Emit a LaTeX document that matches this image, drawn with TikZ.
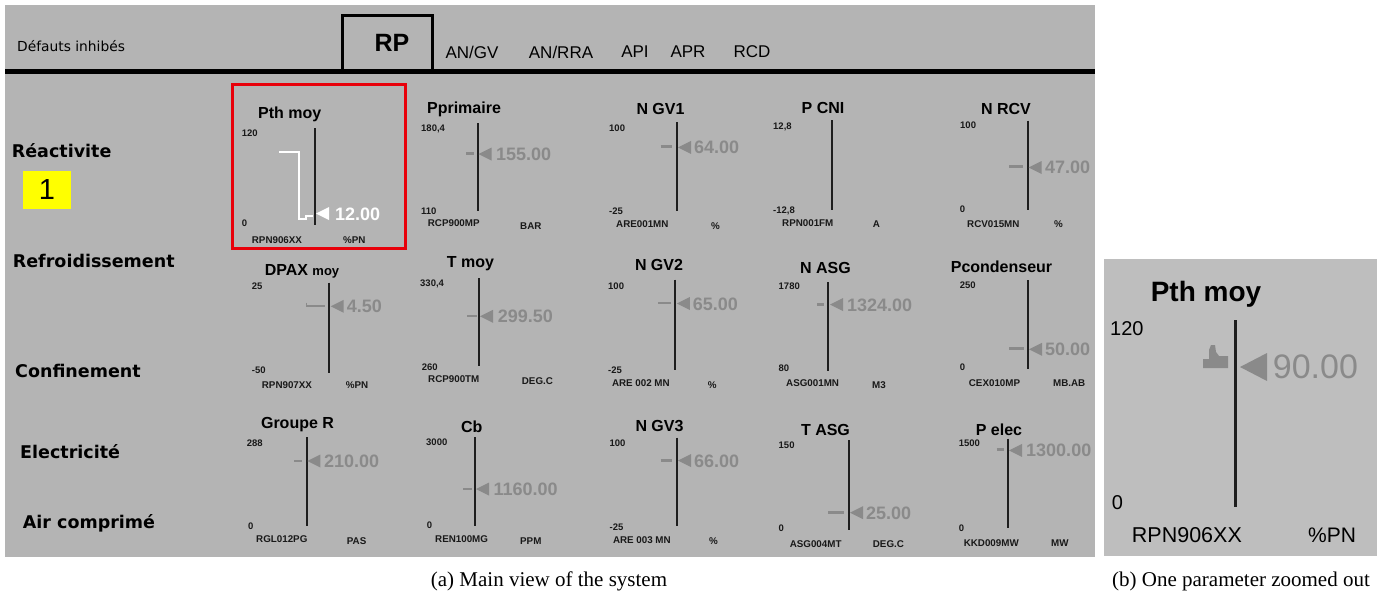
\documentclass[tikz,border=0pt]{standalone}
\usepackage{fontspec}
\setmainfont{Liberation Sans}
\newfontfamily\dejavu{DejaVu Sans}
\newfontfamily\capserif{Liberation Serif}
\definecolor{hmigray}{RGB}{180,180,180}
\definecolor{hmigrayb}{RGB}{190,190,190}
\definecolor{valgray}{RGB}{138,138,138}
\definecolor{barblack}{RGB}{30,30,30}
\definecolor{alarmred}{RGB}{232,0,10}
\definecolor{hmiyellow}{RGB}{255,255,0}
\definecolor{smalltxt}{RGB}{25,25,25}
\newcommand\gtri[3][valgray]{\fill[#1] (#2,#3) -- ++(13,-6.5) -- ++(0,13) -- cycle;}
\tikzset{
 gtitle/.style={font=\bfseries\fontsize{16}{16}\selectfont, inner sep=0, anchor=center},
 gsmall/.style={font=\bfseries\fontsize{9.5}{10}\selectfont, text=smalltxt, inner sep=0, anchor=west},
 gtag/.style={font=\bfseries\fontsize{9.8}{10}\selectfont, text=smalltxt, inner sep=0, anchor=west},
 gval/.style={font=\bfseries\fontsize{18}{18}\selectfont, text=valgray, inner sep=0, anchor=west},
 gbar/.style={line width=2pt, draw=barblack},
 gmark/.style={line width=2.5pt, draw=valgray},
 lefttxt/.style={font=\dejavu\bfseries\fontsize{17.5}{18}\selectfont, inner sep=0, anchor=west},
 tabtxt/.style={font=\fontsize{17}{17}\selectfont, inner sep=0, anchor=center},
 captxt/.style={font=\capserif\fontsize{21}{21}\selectfont, inner sep=0, anchor=center},
}
\begin{document}
\begin{tikzpicture}[x=1pt,y=-1pt]
\useasboundingbox (0,0) rectangle (1383,595);
\fill[white] (0,0) rectangle (1383,595);
% main panel
\fill[hmigray] (5,5) rectangle (1095,557);
\fill[black] (5,69) rectangle (1095,74);
\draw[line width=3pt] (342,72) -- (342,15) -- (432,15) -- (432,72);
\node[font=\dejavu\fontsize{13.8}{14}\selectfont, inner sep=0, anchor=west] (defauts) at (17,46) {Défauts inhibés};
\node[font=\bfseries\fontsize{25}{25}\selectfont, inner sep=0] (tabrp) at (392,43) {RP};
\node[tabtxt] (tabangv) at (472,52) {AN/GV};
\node[tabtxt] (tabanrra) at (561,52) {AN/RRA};
\node[tabtxt] (tabapi) at (635,52) {API};
\node[tabtxt] (tabapr) at (688,52) {APR};
\node[tabtxt] (tabrcd) at (752,52) {RCD};
% left labels
\node[lefttxt] (lreact) at (11.7,151) {Réactivite};
\fill[hmiyellow] (23,171) rectangle (70.5,209);
\node[font=\fontsize{29}{29}\selectfont, inner sep=0] (one) at (47,190) {1};
\node[lefttxt] (lrefr) at (12.7,261) {Refroidissement};
\node[lefttxt] (lconf) at (15,371) {Confinement};
\node[lefttxt] (lelec) at (20,451.5) {Electricité};
\node[lefttxt] (lair) at (22.7,523) {Air comprimé};
% ---------- row 1
% Pth moy
\draw[alarmred, line width=3pt] (232,84) rectangle (405,248);
\node[gtitle] (t11) at (289.7,114) {Pth moy};
\node[gsmall] (mx11) at (241.7,133) {120};
\node[gsmall] (mn11) at (241.7,223.5) {0};
\node[gtag] (tg11) at (251.7,240) {RPN906XX};
\node[gtag] (u11) at (343,240) {\%PN};
\draw[gbar] (315,128) -- (315,225);
\draw[white, line width=2pt] (279,152) -- (299,152) -- (299,219) -- (306,219) -- (306,216) -- (313,216);
\gtri[white]{316}{213.5}
\node[gval, text=white] (v11) at (335,214) {12.00};
% Pprimaire
\node[gtitle] (t12) at (464,109) {Pprimaire};
\node[gsmall] (mx12) at (421,129) {180,4};
\node[gsmall] (mn12) at (421,211.5) {110};
\node[gtag] (tg12) at (427.7,223) {RCP900MP};
\node[gtag] (u12) at (520,226) {BAR};
\draw[gbar] (477.7,123) -- (477.7,211);
\draw[gmark] (466,153.3) -- (474,153.3);
\gtri{478.5}{154}
\node[gval] (v12) at (496,154) {155.00};
% N GV1
\node[gtitle] (t13) at (660.5,108.5) {N GV1};
\node[gsmall] (mx13) at (609,128.5) {100};
\node[gsmall] (mn13) at (609,211) {-25};
\node[gtag] (tg13) at (616,224) {ARE001MN};
\node[gtag] (u13) at (711,226.5) {\%};
\draw[gbar] (676.8,122) -- (676.8,211);
\draw[gmark] (660.6,146.4) -- (672.4,146.4);
\gtri{678}{147.4}
\node[gval] (v13) at (694,147.4) {64.00};
% P CNI
\node[gtitle] (t14) at (823,108) {P CNI};
\node[gsmall] (mx14) at (773,127) {12,8};
\node[gsmall] (mn14) at (773,211) {-12,8};
\node[gtag] (tg14) at (782,223) {RPN001FM};
\node[gtag] (u14) at (872.7,224) {A};
\draw[gbar] (832,120) -- (832,209.7);
% N RCV
\node[gtitle] (t15) at (1006,109) {N RCV};
\node[gsmall] (mx15) at (960,125.5) {100};
\node[gsmall] (mn15) at (959.6,209) {0};
\node[gtag] (tg15) at (967,224) {RCV015MN};
\node[gtag] (u15) at (1054,224.5) {\%};
\draw[gbar] (1027.6,120.5) -- (1027.6,210);
\draw[gmark] (1009,166.6) -- (1022.6,166.6);
\gtri{1028.6}{167.5}
\node[gval] (v15) at (1045,167) {47.00};
% ---------- row 2
% DPAX moy
\node[gtitle] (t21) at (302,271) {DPAX {\fontsize{13}{13}\selectfont moy}};
\node[gsmall] (mx21) at (251.7,286.5) {25};
\node[gsmall] (mn21) at (251.7,370.5) {-50};
\node[gtag] (tg21) at (261.7,385.5) {RPN907XX};
\node[gtag] (u21) at (345.7,385) {\%PN};
\draw[gbar] (329.3,282.7) -- (329.3,372.7);
\draw[gmark] (306,306) -- (325,306);
\draw[valgray, line width=1.5pt] (306.7,302.5) -- (306.7,306);
\gtri{330.7}{306.3}
\node[gval] (v21) at (346.7,306) {4.50};
% T moy
\node[gtitle] (t22) at (470.5,263.5) {T moy};
\node[gsmall] (mx22) at (420,283.7) {330,4};
\node[gsmall] (mn22) at (421.7,367) {260};
\node[gtag] (tg22) at (428,379) {RCP900TM};
\node[gtag] (u22) at (521.7,381) {DEG.C};
\draw[gbar] (479.3,278) -- (479.3,366);
\draw[gmark] (467,316) -- (476.7,316);
\gtri{480}{316.3}
\node[gval] (v22) at (497.7,316.7) {299.50};
% N GV2
\node[gtitle] (t23) at (659,265) {N GV2};
\node[gsmall] (mx23) at (608,286) {100};
\node[gsmall] (mn23) at (608,370) {-25};
\node[gtag] (tg23) at (611.8,383) {ARE 002 MN};
\node[gtag] (u23) at (707.7,385) {\%};
\draw[gbar] (675,279.6) -- (675,369.5);
\draw[gmark] (658,303) -- (670.7,303);
\gtri{676.8}{303.5}
\node[gval] (v23) at (692.6,303.9) {65.00};
% N ASG
\node[gtitle] (t24) at (825.5,268) {N ASG};
\node[gsmall] (mx24) at (778.5,286) {1780};
\node[gsmall] (mn24) at (778.5,368) {80};
\node[gtag] (tg24) at (786,383) {ASG001MN};
\node[gtag] (u24) at (872,385) {M3};
\draw[gbar] (828,282) -- (828,370.5);
\draw[gmark] (817,304.5) -- (824,304.5);
\gtri{830}{304.5}
\node[gval] (v24) at (846.8,305) {1324.00};
% Pcondenseur
\node[gtitle] (t25) at (1001.5,267) {Pcondenseur};
\node[gsmall] (mx25) at (959.6,285) {250};
\node[gsmall] (mn25) at (959.6,367.5) {0};
\node[gtag] (tg25) at (968.7,383) {CEX010MP};
\node[gtag] (u25) at (1052.9,383) {MB.AB};
\draw[gbar] (1027.6,280) -- (1027.6,368.5);
\draw[gmark] (1009,348.6) -- (1023.6,348.6);
\gtri{1029}{349.3}
\node[gval] (v25) at (1045,349.3) {50.00};
% ---------- row 3
% Groupe R
\node[gtitle] (t31) at (297.5,425) {Groupe R};
\node[gsmall] (mx31) at (246.7,443) {288};
\node[gsmall] (mn31) at (248,526) {0};
\node[gtag] (tg31) at (256,539) {RGL012PG};
\node[gtag] (u31) at (346.7,541) {PAS};
\draw[gbar] (306.7,437) -- (306.7,525.7);
\draw[gmark] (294,461) -- (301.7,461);
\gtri{307.3}{461}
\node[gval] (v31) at (324,461) {210.00};
% Cb
\node[gtitle] (t32) at (471.7,426.7) {Cb};
\node[gsmall] (mx32) at (426,442) {3000};
\node[gsmall] (mn32) at (426.7,525) {0};
\node[gtag] (tg32) at (435,539.5) {REN100MG};
\node[gtag] (u32) at (520,541) {PPM};
\draw[gbar] (475,437.3) -- (475,525.7);
\draw[gmark] (463.3,489) -- (471.7,489);
\gtri{476}{489}
\node[gval] (v32) at (493.3,489.3) {1160.00};
% N GV3
\node[gtitle] (t33) at (659.5,426) {N GV3};
\node[gsmall] (mx33) at (609.4,443.5) {100};
\node[gsmall] (mn33) at (609.4,527) {-25};
\node[gtag] (tg33) at (612.8,540) {ARE 003 MN};
\node[gtag] (u33) at (709,541) {\%};
\draw[gbar] (676.8,437.7) -- (676.8,526.2);
\draw[gmark] (660.6,460.5) -- (672.4,460.5);
\gtri{678}{460.5}
\node[gval] (v33) at (694,461.6) {66.00};
% T ASG
\node[gtitle] (t34) at (825.5,430) {T ASG};
\node[gsmall] (mx34) at (778.5,445) {150};
\node[gsmall] (mn34) at (778.5,528) {0};
\node[gtag] (tg34) at (789.6,544) {ASG004MT};
\node[gtag] (u34) at (872.7,544) {DEG.C};
\draw[gbar] (848.5,440.4) -- (848.5,530);
\draw[gmark] (828,512.7) -- (844,512.7);
\gtri{850}{512.7}
\node[gval] (v34) at (866,513.4) {25.00};
% P elec
\node[gtitle] (t35) at (999,430) {P elec};
\node[gsmall] (mx35) at (958.6,443.5) {1500};
\node[gsmall] (mn35) at (958.6,528) {0};
\node[gtag] (tg35) at (963.6,543) {KKD009MW};
\node[gtag] (u35) at (1051,543) {MW};
\draw[gbar] (1008,438.7) -- (1008,528);
\draw[gmark] (996.6,449.4) -- (1004,449.4);
\gtri{1009}{450.4}
\node[gval] (v35) at (1026,450.5) {1300.00};
% ---------- panel (b)
\fill[hmigrayb] (1104,259) rectangle (1377,556);
\node[font=\bfseries\fontsize{28}{28}\selectfont, inner sep=0] (tb) at (1206,294) {Pth moy};
\node[font=\fontsize{20}{20}\selectfont, inner sep=0, anchor=west] (mxb) at (1110,329) {120};
\node[font=\fontsize{20}{20}\selectfont, inner sep=0, anchor=west] (mnb) at (1111.7,502.5) {0};
\node[font=\fontsize{21.5}{21}\selectfont, inner sep=0, anchor=west] (tgb) at (1131.7,535) {RPN906XX};
\node[font=\fontsize{21}{21}\selectfont, inner sep=0, anchor=west] (ub) at (1308,535) {\%PN};
\draw[line width=3pt, draw=barblack] (1235,320) -- (1235,506.7);
\fill[valgray] (1203,368) -- (1203,359) -- (1209,359) -- (1209,350) -- (1211,345) -- (1215,345) -- (1216,352) -- (1219,356) -- (1228,356) -- (1228,368) -- cycle;
\fill[valgray] (1240,367) -- ++(27,-14) -- ++(0,28) -- cycle;
\node[font=\fontsize{34}{34}\selectfont, text=valgray, inner sep=0, anchor=west] (vb) at (1272.7,366.7) {90.00};
% captions
\node[captxt] (capa) at (549,581) {(a) Main view of the system};
\node[captxt] (capb) at (1241,581) {(b) One parameter zoomed out};
\end{tikzpicture}
\end{document}
